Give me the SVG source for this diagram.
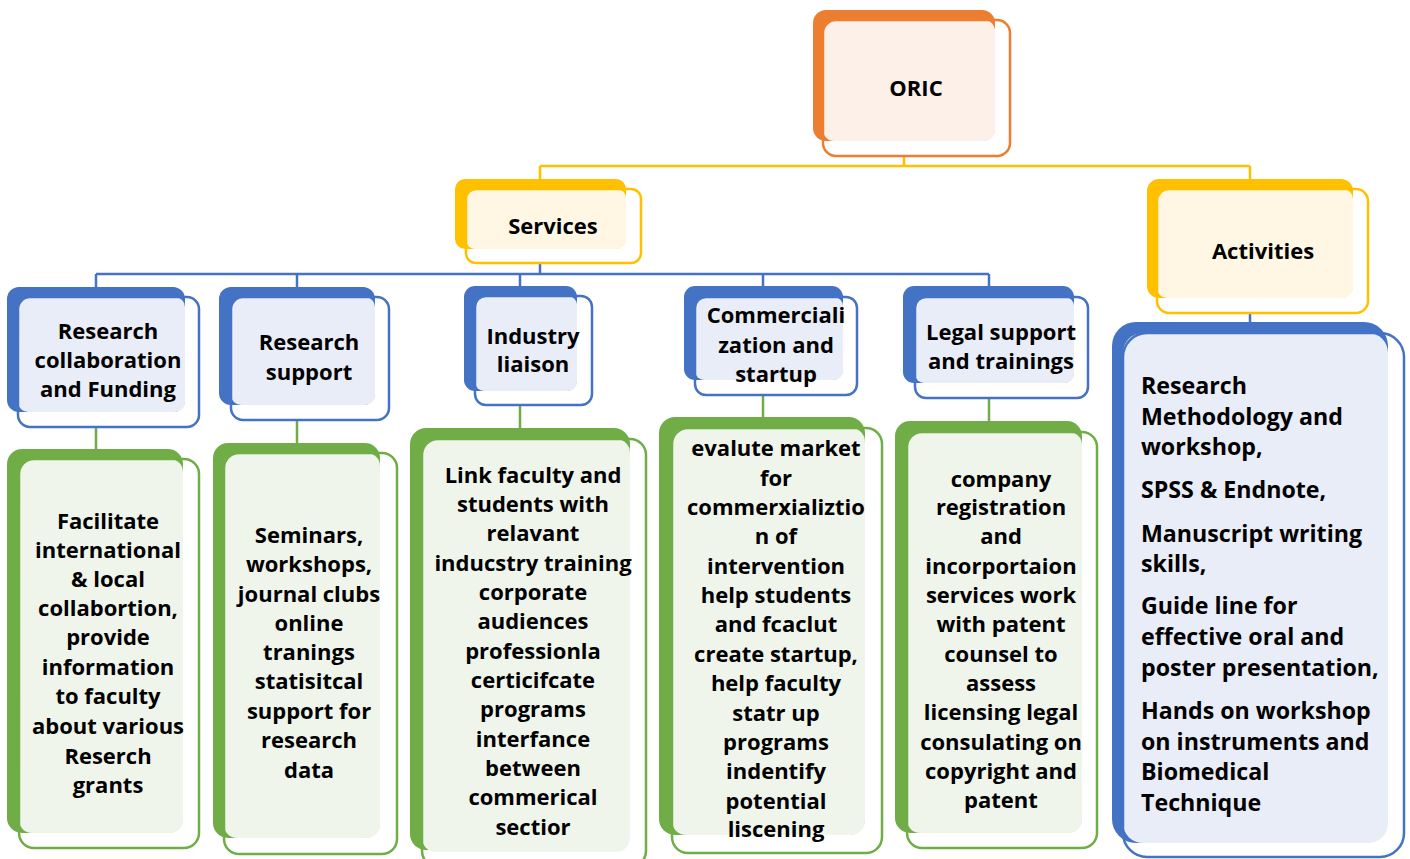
<svg xmlns="http://www.w3.org/2000/svg" width="1410" height="859" viewBox="0 0 1410 859">
<style>
text{font-family:"Open Sans","Liberation Sans",sans-serif;font-weight:700;font-size:22px;fill:#000;text-anchor:middle}
text.l{text-anchor:start;font-size:23.2px}
.ob{fill:#ED7D31}.ol{fill:#FDF0E9}.of{fill:none;stroke:#ED7D31;stroke-width:2.5}
.yb{fill:#FFC000}.yl{fill:#FFF7E4}.yf{fill:none;stroke:#FFC000;stroke-width:2.5}
.bb{fill:#4472C4}.bl{fill:#E9EDF7}.bf{fill:none;stroke:#4472C4;stroke-width:2.5}
.gb{fill:#70AD47}.gl{fill:#EFF5EB}.gf{fill:none;stroke:#70AD47;stroke-width:2.5}
.cy{stroke:#FFC000;stroke-width:2.5;fill:none}
.cb{stroke:#4472C4;stroke-width:2.5;fill:none}
.cg{stroke:#70AD47;stroke-width:2.5;fill:none}
</style>
<rect width="1410" height="859" fill="#fff"/>
<g id="connectors">
<path class="cy" d="M904 156V166M540 166H1250M540 166V179M1250 166V180"/>
<path class="cb" d="M540 263V274M96 274H989M96 274V287M297 274V287M520 274V286M763 274V286M989 274V286M1250 313V322"/>
<path class="cg" d="M96 427V449M297 420V443M520 405V428M763 395V417M989 398V421"/>
</g>
<g id="oric">
<rect class="ob" x="813" y="10" width="182" height="131" rx="13"/>
<rect class="ol" x="823" y="20" width="172" height="121" rx="11"/>
<rect class="of" x="823" y="20" width="187" height="136" rx="13"/>
<text x="916" y="96">ORIC</text>
</g>
<g id="services">
<rect class="yb" x="455" y="179" width="171" height="70" rx="10"/>
<rect class="yl" x="466" y="189" width="160" height="60" rx="9"/>
<rect class="yf" x="466" y="189" width="175" height="74" rx="10"/>
<text x="553" y="234">Services</text>
</g>
<g id="activities">
<rect class="yb" x="1147" y="179" width="206" height="119" rx="12"/>
<rect class="yl" x="1157" y="189" width="196" height="109" rx="10"/>
<rect class="yf" x="1157" y="189" width="211" height="124" rx="12"/>
<text x="1263" y="259">Activities</text>
</g>
<g id="h-research-collab">
<rect class="bb" x="7" y="287" width="178" height="125" rx="12"/>
<rect class="bl" x="18" y="297" width="167" height="115" rx="10"/>
<rect class="bf" x="18" y="297" width="181" height="130" rx="12"/>
<text><tspan x="108" y="339">Research</tspan><tspan x="108" y="368">collaboration</tspan><tspan x="108" y="397">and Funding</tspan></text>
</g>
<g id="h-research-support">
<rect class="bb" x="219" y="287" width="156" height="118" rx="12"/>
<rect class="bl" x="231" y="297" width="144" height="108" rx="10"/>
<rect class="bf" x="231" y="297" width="158" height="123" rx="12"/>
<text><tspan x="309" y="350">Research</tspan><tspan x="309" y="380">support</tspan></text>
</g>
<g id="h-industry">
<rect class="bb" x="464" y="286" width="113" height="105" rx="11"/>
<rect class="bl" x="475" y="296" width="102" height="95" rx="9"/>
<rect class="bf" x="475" y="296" width="117" height="109" rx="11"/>
<text><tspan x="533" y="344">Industry</tspan><tspan x="533" y="372">liaison</tspan></text>
</g>
<g id="h-commercialization">
<rect class="bb" x="684" y="286" width="159" height="94" rx="11"/>
<rect class="bl" x="695" y="297" width="148" height="83" rx="9"/>
<rect class="bf" x="695" y="297" width="162" height="98" rx="11"/>
<text><tspan x="776" y="323">Commerciali</tspan><tspan x="776" y="353">zation and</tspan><tspan x="776" y="382">startup</tspan></text>
</g>
<g id="h-legal">
<rect class="bb" x="903" y="286" width="171" height="97" rx="11"/>
<rect class="bl" x="915" y="297" width="159" height="86" rx="9"/>
<rect class="bf" x="915" y="297" width="173" height="101" rx="11"/>
<text><tspan x="1001" y="340">Legal support</tspan><tspan x="1001" y="369">and trainings</tspan></text>
</g>
<g id="g-research-collab">
<rect class="gb" x="7" y="449" width="176" height="384" rx="15"/>
<rect class="gl" x="19" y="459" width="164" height="374" rx="13"/>
<rect class="gf" x="19" y="459" width="180" height="389" rx="15"/>
<text><tspan x="108" y="529">Facilitate</tspan><tspan x="108" y="558">international</tspan><tspan x="108" y="587">&amp; local</tspan><tspan x="108" y="616">collabortion,</tspan><tspan x="108" y="645">provide</tspan><tspan x="108" y="675">information</tspan><tspan x="108" y="704">to faculty</tspan><tspan x="108" y="734">about various</tspan><tspan x="108" y="764">Reserch</tspan><tspan x="108" y="793">grants</tspan></text>
</g>
<g id="g-research-support">
<rect class="gb" x="213" y="443" width="167" height="395" rx="15"/>
<rect class="gl" x="224" y="453" width="156" height="385" rx="13"/>
<rect class="gf" x="224" y="453" width="173" height="401" rx="15"/>
<text><tspan x="309" y="543">Seminars,</tspan><tspan x="309" y="572">workshops,</tspan><tspan x="309" y="602">journal clubs</tspan><tspan x="309" y="631">online</tspan><tspan x="309" y="660">tranings</tspan><tspan x="309" y="689">statisitcal</tspan><tspan x="309" y="719">support for</tspan><tspan x="309" y="748">research</tspan><tspan x="309" y="778">data</tspan></text>
</g>
<g id="g-industry">
<rect class="gb" x="410" y="428" width="220" height="422" rx="16"/>
<rect class="gl" x="422" y="439" width="208" height="413" rx="14"/>
<rect class="gf" x="422" y="439" width="224" height="428" rx="16"/>
<text><tspan x="533" y="483">Link faculty and</tspan><tspan x="533" y="512">students with</tspan><tspan x="533" y="541">relavant</tspan><tspan x="533" y="571">inducstry training</tspan><tspan x="533" y="600">corporate</tspan><tspan x="533" y="629">audiences</tspan><tspan x="533" y="659">professionla</tspan><tspan x="533" y="688">certicifcate</tspan><tspan x="533" y="717">programs</tspan><tspan x="533" y="747">interfance</tspan><tspan x="533" y="776">between</tspan><tspan x="533" y="805">commerical</tspan><tspan x="533" y="835">sectior</tspan></text>
</g>
<g id="g-commercialization">
<rect class="gb" x="659" y="417" width="206" height="418" rx="16"/>
<rect class="gl" x="672" y="428" width="193" height="407" rx="14"/>
<rect class="gf" x="672" y="428" width="210" height="425" rx="16"/>
<text><tspan x="776" y="456">evalute market</tspan><tspan x="776" y="486">for</tspan><tspan x="776" y="515">commerxializtio</tspan><tspan x="776" y="544">n of</tspan><tspan x="776" y="574">intervention</tspan><tspan x="776" y="603">help students</tspan><tspan x="776" y="632">and fcaclut</tspan><tspan x="776" y="662">create startup,</tspan><tspan x="776" y="691">help faculty</tspan><tspan x="776" y="721">statr up</tspan><tspan x="776" y="750">programs</tspan><tspan x="776" y="779">indentify</tspan><tspan x="776" y="809">potential</tspan><tspan x="776" y="837">liscening</tspan></text>
</g>
<g id="g-legal">
<rect class="gb" x="895" y="421" width="187" height="412" rx="15"/>
<rect class="gl" x="907" y="432" width="175" height="401" rx="13"/>
<rect class="gf" x="907" y="432" width="190" height="416" rx="15"/>
<text><tspan x="1001" y="487">company</tspan><tspan x="1001" y="515">registration</tspan><tspan x="1001" y="544">and</tspan><tspan x="1001" y="574">incorportaion</tspan><tspan x="1001" y="603">services work</tspan><tspan x="1001" y="632">with patent</tspan><tspan x="1001" y="662">counsel to</tspan><tspan x="1001" y="691">assess</tspan><tspan x="1001" y="720">licensing legal</tspan><tspan x="1001" y="750">consulating on</tspan><tspan x="1001" y="779">copyright and</tspan><tspan x="1001" y="808">patent</tspan></text>
</g>
<g id="activities-list">
<rect class="bb" x="1112" y="322" width="276" height="521" rx="24"/>
<rect class="bl" x="1123" y="333" width="265" height="510" rx="20"/>
<rect class="bf" x="1123" y="333" width="281" height="524" rx="24"/>
<text class="l"><tspan x="1141" y="394">Research</tspan><tspan x="1141" y="425">Methodology and</tspan><tspan x="1141" y="455">workshop,</tspan><tspan x="1141" y="498">SPSS &amp; Endnote,</tspan><tspan x="1141" y="542">Manuscript writing</tspan><tspan x="1141" y="572">skills,</tspan><tspan x="1141" y="614">Guide line for</tspan><tspan x="1141" y="645">effective oral and</tspan><tspan x="1141" y="676">poster presentation,</tspan><tspan x="1141" y="719">Hands on workshop</tspan><tspan x="1141" y="750">on instruments and</tspan><tspan x="1141" y="780">Biomedical</tspan><tspan x="1141" y="811">Technique</tspan></text>
</g>
</svg>
